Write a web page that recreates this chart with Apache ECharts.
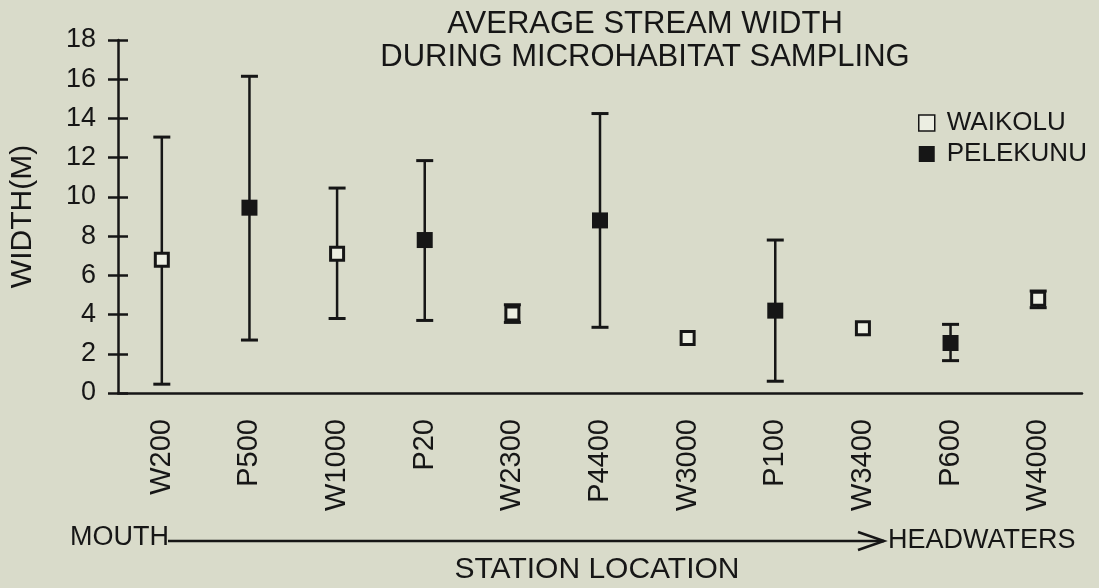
<!DOCTYPE html>
<html>
<head>
<meta charset="utf-8">
<script src="https://cdn.jsdelivr.net/npm/echarts@6/dist/echarts.min.js"></script>
<style>
  html, body { margin: 0; padding: 0; background: #d9dbca; }
  #chart { width: 1099px; height: 588px; }
</style>
</head>
<body>
<div id="chart"></div>
<script>
// Stations ordered from the stream mouth up to the headwaters
const stations = ['W200', 'P500', 'W1000', 'P20', 'W2300', 'P4400', 'W3000', 'P100', 'W3400', 'P600', 'W4000'];
const streams = ['WAIKOLU', 'PELEKUNU'];
// 0 = Waikolu, 1 = Pelekunu
const stationStream = [0, 1, 0, 1, 0, 1, 0, 1, 0, 1, 0];
// Average width (m) and the range shown by the error bars
const meanWidth = [6.8, 9.45, 7.1, 7.8, 4.05, 8.8, 2.8, 4.2, 3.3, 2.55, 4.8];
const lowWidth = [0.45, 2.7, 3.8, 3.7, 3.6, 3.35, null, 0.6, null, 1.65, 4.35];
const highWidth = [13.05, 16.15, 10.45, 11.85, 4.5, 14.25, null, 7.8, null, 3.5, 5.2];
const yTicks = { min: 0, max: 18, step: 2 };

const ink = '#161616';
const bg = '#d9dbca';
const font = '"Liberation Sans", Arial, sans-serif';

const errorData = [];
stations.forEach((s, i) => {
  if (lowWidth[i] != null && highWidth[i] != null) errorData.push([i, lowWidth[i], highWidth[i]]);
});
const pointsFor = (k) => stations
  .map((s, i) => (stationStream[i] === k ? [i, meanWidth[i]] : null))
  .filter(Boolean);

const chart = echarts.init(document.getElementById('chart'), null, { renderer: 'canvas' });

const option = {
  backgroundColor: bg,
  animation: false,
  title: {
    text: 'AVERAGE STREAM WIDTH\nDURING MICROHABITAT SAMPLING',
    left: 640,
    top: 3,
    textAlign: 'center',
    textStyle: { fontFamily: font, fontSize: 31, fontWeight: 'normal', color: ink, lineHeight: 33 }
  },
  legend: {
    orient: 'vertical',
    left: 913,
    top: 105,
    itemWidth: 16,
    itemHeight: 16,
    itemGap: 5,
    textStyle: { fontFamily: font, fontSize: 26, lineHeight: 26, color: ink, padding: [0, 0, 0, 7] },
    data: [
      { name: streams[0], icon: 'rect', itemStyle: { color: '#eceee2', borderColor: ink, borderWidth: 1.5 } },
      { name: streams[1], icon: 'rect', itemStyle: { color: ink } }
    ]
  },
  grid: { left: 118, right: 17, top: 40, bottom: 195 },
  xAxis: {
    type: 'category',
    data: stations,
    boundaryGap: true,
    axisLine: { lineStyle: { color: ink, width: 2.5 } },
    axisTick: { show: false },
    axisLabel: { rotate: 90, margin: 26, fontFamily: font, fontSize: 29, color: ink }
  },
  yAxis: [
    {
      type: 'value',
      min: yTicks.min,
      max: yTicks.max,
      interval: yTicks.step,
      name: 'WIDTH(M)',
      nameLocation: 'middle',
      nameGap: 80,
      nameRotate: 90,
      nameTextStyle: { fontFamily: font, fontSize: 30, color: ink },
      axisLine: { show: true, lineStyle: { color: ink, width: 2.5 } },
      axisTick: { show: true, length: 10, lineStyle: { color: ink, width: 2.5 } },
      axisLabel: { margin: 22, fontFamily: font, fontSize: 27, color: ink },
      splitLine: { show: false }
    },
    {
      // inward half of the crossing ticks
      type: 'value',
      position: 'left',
      min: yTicks.min,
      max: yTicks.max,
      interval: yTicks.step,
      axisLine: { show: false },
      axisTick: { show: true, inside: true, length: 10, lineStyle: { color: ink, width: 2.5 } },
      axisLabel: { show: false },
      splitLine: { show: false }
    }
  ],
  series: [
    {
      type: 'custom',
      name: 'range',
      z: 1,
      data: errorData,
      renderItem: function (params, api) {
        const x = api.value(0);
        const lo = api.coord([x, api.value(1)]);
        const hi = api.coord([x, api.value(2)]);
        const cap = 8.5;
        return {
          type: 'group',
          children: [
            { type: 'line', shape: { x1: lo[0], y1: lo[1], x2: hi[0], y2: hi[1] }, style: { stroke: ink, lineWidth: 2.5 } },
            { type: 'line', shape: { x1: hi[0] - cap, y1: hi[1], x2: hi[0] + cap, y2: hi[1] }, style: { stroke: ink, lineWidth: 3 } },
            { type: 'line', shape: { x1: lo[0] - cap, y1: lo[1], x2: lo[0] + cap, y2: lo[1] }, style: { stroke: ink, lineWidth: 3 } }
          ]
        };
      }
    },
    {
      type: 'scatter',
      name: streams[0],
      z: 3,
      symbol: 'rect',
      symbolSize: 13,
      itemStyle: { color: '#eceee2', borderColor: ink, borderWidth: 3, opacity: 1 },
      data: pointsFor(0)
    },
    {
      type: 'scatter',
      name: streams[1],
      z: 3,
      symbol: 'rect',
      symbolSize: 16,
      itemStyle: { color: ink, opacity: 1 },
      data: pointsFor(1)
    }
  ],
  graphic: [
    {
      type: 'text', x: 70, y: 538,
      style: { text: 'MOUTH', fontFamily: font, fontSize: 27, fill: ink, textVerticalAlign: 'middle' }
    },
    {
      type: 'line', shape: { x1: 168, y1: 541, x2: 884, y2: 541 },
      style: { stroke: ink, lineWidth: 2.5 }
    },
    {
      type: 'polyline', shape: { points: [[858, 532], [884, 541], [858, 550]] },
      style: { stroke: ink, lineWidth: 2.5, fill: null }
    },
    {
      type: 'text', x: 888, y: 541,
      style: { text: 'HEADWATERS', fontFamily: font, fontSize: 27, fill: ink, textVerticalAlign: 'middle' }
    },
    {
      type: 'text', x: 597, y: 570,
      style: { text: 'STATION LOCATION', fontFamily: font, fontSize: 30, fill: ink, textAlign: 'center', textVerticalAlign: 'middle' }
    }
  ]
};

chart.setOption(option);
</script>
</body>
</html>
